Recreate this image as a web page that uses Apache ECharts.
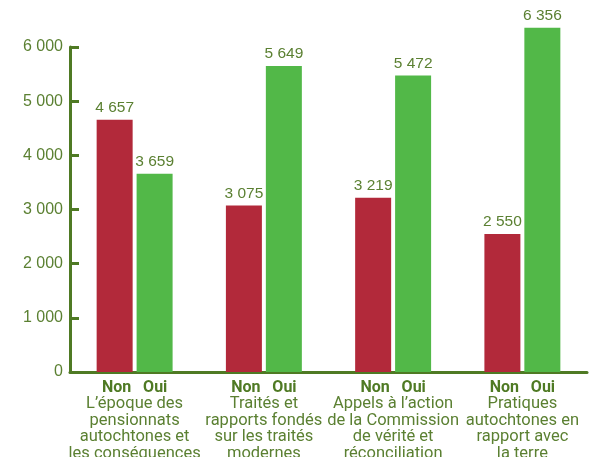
<!DOCTYPE html>
<html><head><meta charset="utf-8">
<script src="https://cdn.jsdelivr.net/npm/echarts@6/dist/echarts.min.js"></script>
<style>html,body{margin:0;padding:0;background:#fff}#c{width:591px;height:457px}</style>
</head><body><div id="c"></div>
<script>
const categories = [
  "L’époque des\npensionnats\nautochtones et\nles conséquences\nintergénérationnelles",
  "Traités et\nrapports fondés\nsur les traités\nmodernes",
  "Appels à l’action\nde la Commission\nde vérité et\nréconciliation",
  "Pratiques\nautochtones en\nrapport avec\nla terre"
];
const nonValues = [4657, 3075, 3219, 2550];
const ouiValues = [3659, 5649, 5472, 6356];
const yTicks = [0, 1000, 2000, 3000, 4000, 5000, 6000];

const textColor = '#5b8032';
const axisColor = '#4f7a24';
const fmt = v => String(v).replace(/\B(?=(\d{3})+(?!\d))/g, ' ');
const font = 'Roboto, "Liberation Sans", sans-serif';
const numFont = '"Liberation Sans", Arial, sans-serif';

const chart = echarts.init(document.getElementById('c'), null, {renderer: 'canvas'});
const labelCfg = {
  show: true, position: 'top', distance: 4,
  color: textColor, fontSize: 15.5, fontFamily: numFont,
  formatter: p => fmt(p.value)
};
chart.setOption({
  animation: false,
  grid: {left: 70, right: 4, top: 47, bottom: 85, containLabel: false, outerBoundsMode: 'none'},
  xAxis: {
    type: 'category', data: categories,
    axisLine: {show: true, lineStyle: {color: axisColor, width: 3}},
    axisTick: {show: false},
    axisLabel: {
      interval: 0, margin: 7, hideOverlap: false,
      formatter: v => '{h|Non   Oui}\n' + v.split('\n').map(s => '{t|' + s + '}').join('\n'),
      rich: {
        h: {fontWeight: 'bold', fontSize: 16, color: axisColor, fontFamily: font, lineHeight: 17, align: 'center'},
        t: {fontSize: 16.5, color: textColor, fontFamily: font, lineHeight: 16.5, align: 'center'}
      }
    }
  },
  yAxis: {
    type: 'value', min: yTicks[0], max: yTicks[yTicks.length - 1], interval: 1000,
    axisLine: {show: true, lineStyle: {color: axisColor, width: 3}},
    axisTick: {show: true, inside: true, length: 9, lineStyle: {color: axisColor, width: 3}},
    splitLine: {show: false},
    axisLabel: {color: textColor, fontSize: 16, fontFamily: numFont, margin: 7, formatter: v => fmt(v)}
  },
  series: [
    {name: 'Non', type: 'bar', data: nonValues, barWidth: 36, barGap: '11%', clip: false,
     itemStyle: {color: '#b2293a'}, label: labelCfg},
    {name: 'Oui', type: 'bar', data: ouiValues, barWidth: 36, clip: false,
     itemStyle: {color: '#52b848'}, label: labelCfg}
  ]
});
</script></body></html>
